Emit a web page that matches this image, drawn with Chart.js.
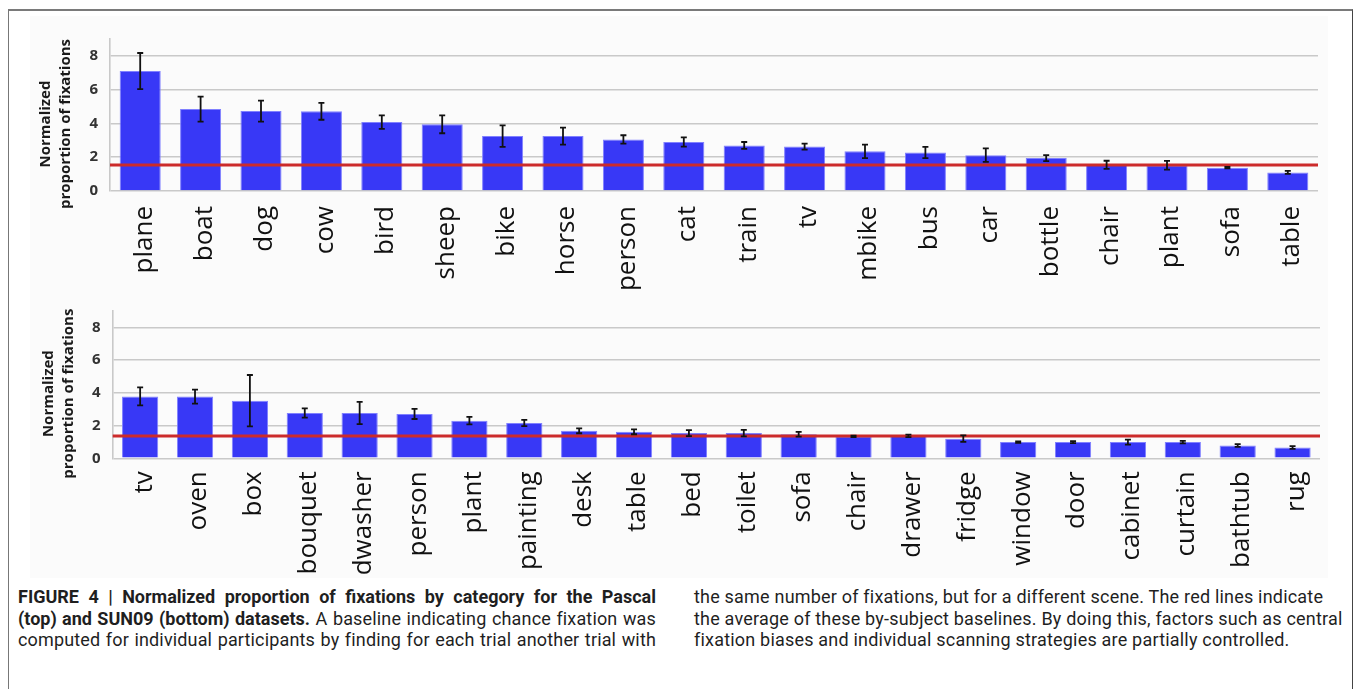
<!DOCTYPE html>
<html>
<head>
<meta charset="utf-8">
<script src="https://cdn.jsdelivr.net/npm/chart.js@4.4.1/dist/chart.umd.min.js"></script>
<style>
  html, body { margin: 0; padding: 0; background: #fff; width: 1355px; height: 689px; overflow: hidden; }
  #frame { position: absolute; left: 8px; top: 9px; width: 1343px; height: 700px;
           border-top: 2px solid #7a7a7a; border-left: 1.5px solid #777; border-right: 1.5px solid #444; }
  #panel { position: absolute; left: 30px; top: 16px; width: 1298px; height: 562px; background: #fbfbfb; }
  canvas { position: absolute; left: 0; }
  #pascal { top: 0; }
  #sun { top: 290px; }
  .cap { position: absolute; top: 586px; font-family: "Roboto", sans-serif;
         font-size: 18px; line-height: 21.5px; color: #1f1f1f; letter-spacing: 0.15px; }
  .cap b { letter-spacing: 0; }
  #capL { left: 18px; width: 638px; }
  #capL div { text-align: justify; text-align-last: justify; }
  #capR { left: 694px; white-space: nowrap; letter-spacing: 0.2px; }
</style>
</head>
<body>
<div id="frame"></div>
<div id="panel"></div>
<canvas id="pascal" width="1355" height="290"></canvas>
<canvas id="sun" width="1355" height="290"></canvas>
<div class="cap" id="capL">
  <div><b>FIGURE 4 | Normalized proportion of fixations by category for the Pascal</b></div>
  <div><b>(top) and SUN09 (bottom) datasets.</b> A baseline indicating chance fixation was</div>
  <div>computed for individual participants by finding for each trial another trial with</div>
</div>
<div class="cap" id="capR">
  <div>the same number of fixations, but for a different scene. The red lines indicate</div>
  <div>the average of these by-subject baselines. By doing this, factors such as central</div>
  <div>fixation biases and individual scanning strategies are partially controlled.</div>
</div>
<script>
// Pascal categories (top panel)
const pascalCats = ['plane','boat','dog','cow','bird','sheep','bike','horse','person','cat',
                    'train','tv','mbike','bus','car','bottle','chair','plant','sofa','table'];
const pascalVals = [7.10, 4.85, 4.73, 4.72, 4.08, 3.95, 3.25, 3.25, 3.05, 2.90,
                    2.70, 2.63, 2.35, 2.28, 2.12, 1.95, 1.55, 1.52, 1.38, 1.10];
const pascalErr  = [1.07, 0.74, 0.62, 0.50, 0.40, 0.53, 0.64, 0.50, 0.25, 0.27,
                    0.20, 0.18, 0.40, 0.33, 0.40, 0.18, 0.24, 0.26, 0.04, 0.09];
const pascalBaseline = 1.54;

// SUN09 categories (bottom panel)
const sunCats = ['tv','oven','box','bouquet','dwasher','person','plant','painting','desk','table','bed',
                 'toilet','sofa','chair','drawer','fridge','window','door','cabinet','curtain','bathtub','rug'];
const sunVals = [3.78, 3.77, 3.52, 2.77, 2.77, 2.71, 2.30, 2.16, 1.68, 1.62, 1.54,
                 1.54, 1.47, 1.34, 1.37, 1.20, 0.99, 0.99, 0.99, 0.99, 0.78, 0.66];
const sunErr  = [0.55, 0.43, 1.57, 0.28, 0.68, 0.31, 0.23, 0.19, 0.15, 0.15, 0.18,
                 0.20, 0.15, 0.04, 0.08, 0.20, 0.05, 0.06, 0.15, 0.08, 0.08, 0.08];
const sunBaseline = 1.37;

const yTicks = [0, 2, 4, 6, 8];
const yMax = 9;
const yTitle = ['Normalized', 'proportion of fixations'];

// Chance baseline, error bars and the two-line axis title
const overlay = {
  id: 'overlay',
  afterDatasetsDraw(chart, args, o) {
    const { ctx, chartArea: { left, right }, scales: { x, y } } = chart;
    ctx.save();
    const yb = y.getPixelForValue(o.base);
    ctx.strokeStyle = '#cc2b2b';
    ctx.lineWidth = 3;
    ctx.beginPath(); ctx.moveTo(left, yb); ctx.lineTo(right, yb); ctx.stroke();

    ctx.strokeStyle = '#111';
    ctx.lineWidth = 1.8;
    o.vals.forEach((v, i) => {
      const e = o.errs[i];
      const px = x.getPixelForValue(i);
      const y1 = y.getPixelForValue(v + e);
      const y2 = y.getPixelForValue(v - e);
      ctx.beginPath();
      ctx.moveTo(px, y1); ctx.lineTo(px, y2);
      ctx.moveTo(px - 3, y1); ctx.lineTo(px + 3, y1);
      ctx.moveTo(px - 3, y2); ctx.lineTo(px + 3, y2);
      ctx.stroke();
    });
    ctx.restore();
  },
  afterDraw(chart, args, o) {
    const { ctx, chartArea: { left, top, bottom } } = chart;
    ctx.save();
    ctx.fillStyle = '#1a1a1a';
    ctx.font = 'bold 15px "Open Sans"';
    ctx.textAlign = 'center';
    ctx.textBaseline = 'middle';
    const cy = (top + bottom) / 2 + 9;
    o.title.forEach((line, k) => {
      ctx.save();
      ctx.translate(left - 64 + k * 20, cy);
      ctx.rotate(-Math.PI / 2);
      ctx.fillText(line, 0, 0);
      ctx.restore();
    });
    ctx.restore();
  }
};

function makeChart(id, cats, vals, errs, base, g) {
  return new Chart(document.getElementById(id), {
    type: 'bar',
    data: {
      labels: cats,
      datasets: [{
        data: vals,
        backgroundColor: '#3838f6',
        borderColor: '#8080ff',
        borderWidth: 1,
        barPercentage: g.bar,
        categoryPercentage: 1
      }]
    },
    options: {
      responsive: false,
      animation: false,
      events: [],
      layout: { padding: { top: g.top, right: g.right, left: 0, bottom: 0 } },
      plugins: {
        legend: { display: false },
        tooltip: { enabled: false },
        overlay: { vals, errs, base, title: yTitle }
      },
      scales: {
        x: {
          grid: { display: false, drawTicks: false },
          border: { display: false },
          ticks: {
            autoSkip: false, maxRotation: 90, minRotation: 90, padding: g.xPad, labelOffset: 4,
            color: '#111', font: { family: 'Open Sans', size: 26 }
          },
          afterFit: s => { s.height = g.xH; }
        },
        y: {
          min: 0, max: yMax,
          grid: { color: '#c9c9c9', lineWidth: 1.6, drawTicks: false },
          border: { display: true, color: '#c9c9c9', width: 1.6 },
          ticks: { padding: 12, color: '#333', font: { family: 'Open Sans', size: 15, weight: 'bold' } },
          afterBuildTicks: s => { s.ticks = yTicks.map(v => ({ value: v })); },
          afterFit: s => { s.width = g.yW; }
        }
      }
    },
    plugins: [overlay]
  });
}

makeChart('pascal', pascalCats, pascalVals, pascalErr, pascalBaseline,
          { top: 39, right: 37, yW: 110, xH: 99, xPad: 15, bar: 0.68 });
makeChart('sun', sunCats, sunVals, sunErr, sunBaseline,
          { top: 11.7, right: 35, yW: 112.7, xH: 121.7, xPad: 13, bar: 0.66 });
</script>
</body>
</html>
